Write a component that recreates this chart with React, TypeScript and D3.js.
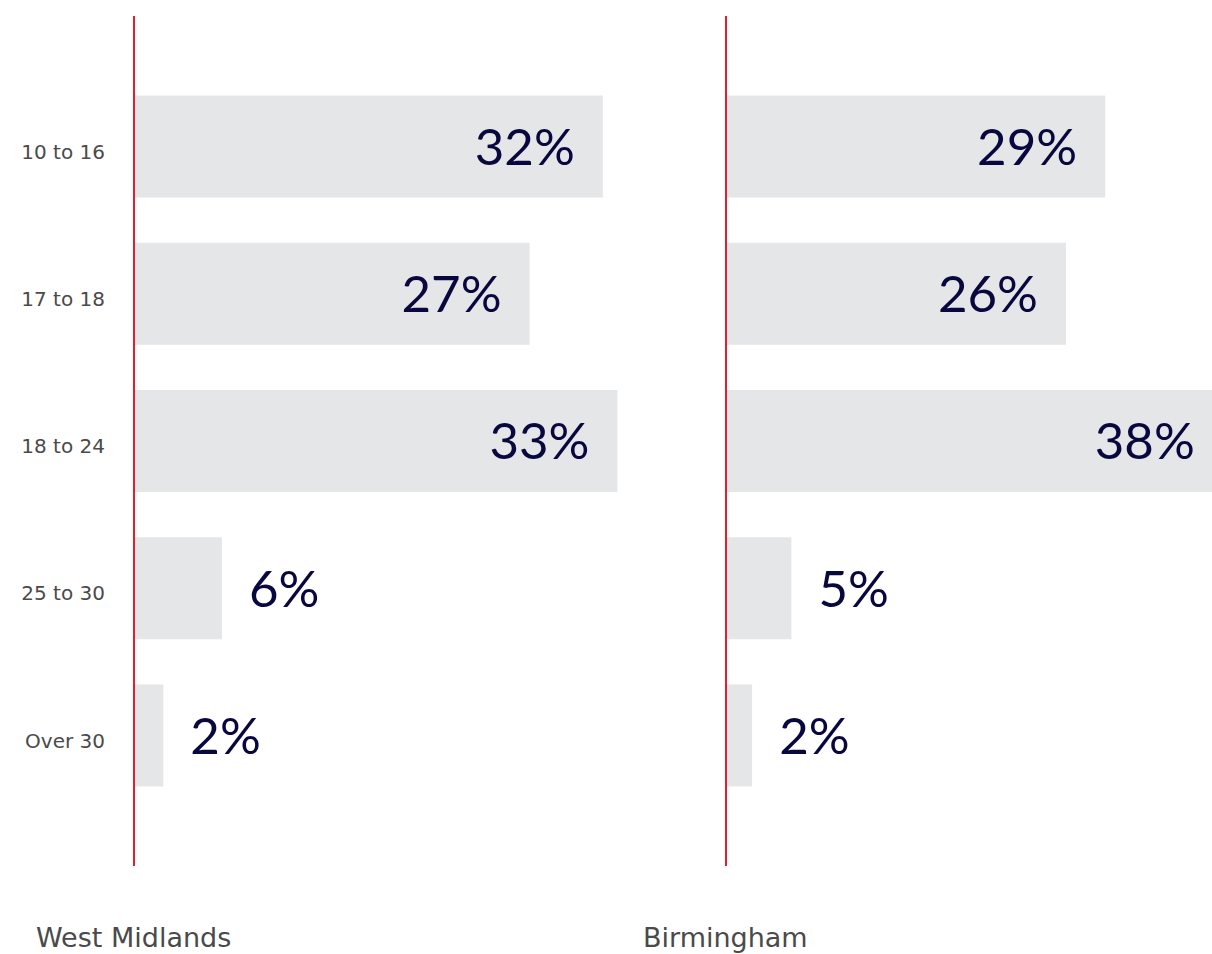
import React from "react";
import * as d3 from "d3";

const categories = ["10 to 16", "17 to 18", "18 to 24", "25 to 30", "Over 30"];
const westMidlands = [32, 27, 33, 6, 2];
const birmingham = [29, 26, 38, 5, 2];
const panelTitles = ["West Midlands", "Birmingham"];

const W = 1212;
const H = 954;
const BAR = "#e5e6e8";
const AXIS = "#e31f2f";
const VALUE = "#08083f";
const LABEL = "#4a4a4a";
const VALUE_FONT = "Lato, 'Noto Sans', sans-serif";
const LABEL_FONT = "'DejaVu Sans', 'Noto Sans', sans-serif";

const y = d3
  .scaleBand<string>()
  .domain(categories)
  .range([16, 866])
  .paddingInner(0.307)
  .paddingOuter(0.54);

function Panel({
  values,
  x,
  title,
  titleX,
}: {
  values: number[];
  x: d3.ScaleLinear<number, number>;
  title: string;
  titleX: number;
}) {
  const x0 = x(0);
  return (
    <g>
      {values.map((v, i) => {
        const c = categories[i];
        const yy = y(c)!;
        const bh = y.bandwidth();
        const end = x(v);
        const inside = v >= 10;
        return (
          <g key={c}>
            <rect x={x0} y={yy} width={end - x0} height={bh} fill={BAR} />
            <text
              x={inside ? end - 28 : end + 27}
              y={yy + bh / 2}
              dy="0.36em"
              textAnchor={inside ? "end" : "start"}
              fontFamily={VALUE_FONT}
              fontSize={51}
              fill={VALUE}
            >
              {v}%
            </text>
          </g>
        );
      })}
      <line x1={x0} x2={x0} y1={16} y2={866} stroke={AXIS} strokeWidth={2} />
      <text
        x={titleX}
        y={947}
        fontFamily={LABEL_FONT}
        fontSize={27}
        fill={LABEL}
      >
        {title}
      </text>
    </g>
  );
}

export default function App() {
  const xLeft = d3.scaleLinear().domain([0, 40]).range([134, 134 + 586]);
  const xRight = d3.scaleLinear().domain([0, 40]).range([726, 726 + 523]);
  return (
    <svg
      width={W}
      height={H}
      style={{ position: "absolute", left: 0, top: 0, background: "#fff" }}
    >
      {categories.map((c) => (
        <text
          key={c}
          x={105}
          y={y(c)! + y.bandwidth() / 2 + 5}
          dy="0.36em"
          textAnchor="end"
          fontFamily={LABEL_FONT}
          fontSize={20}
          fill={LABEL}
        >
          {c}
        </text>
      ))}
      <Panel values={westMidlands} x={xLeft} title={panelTitles[0]} titleX={36} />
      <Panel values={birmingham} x={xRight} title={panelTitles[1]} titleX={643} />
    </svg>
  );
}
